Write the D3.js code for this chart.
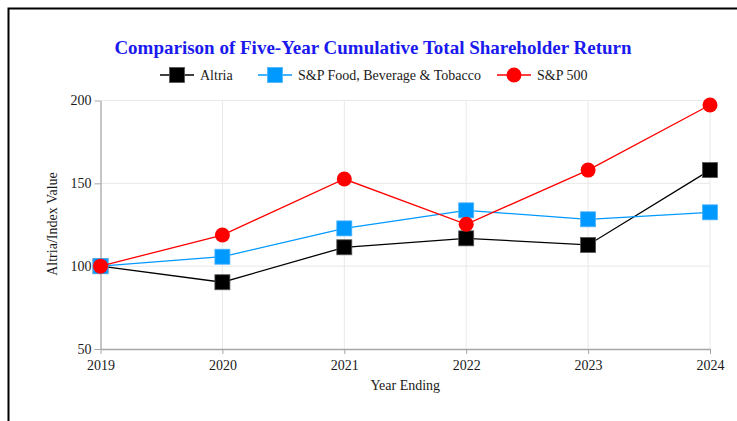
<!DOCTYPE html>
<html>
<head>
<meta charset="utf-8">
<script src="https://cdn.jsdelivr.net/npm/d3@7"></script>
<style>
  body { margin: 0; background: #fff; }
  text { font-family: "Liberation Serif", "Times New Roman", serif; }
</style>
</head>
<body>
<svg id="chart" width="737" height="421"></svg>
<script>
// chart data
var years = [2019, 2020, 2021, 2022, 2023, 2024];
var altria = [100, 90.3, 111.4, 116.8, 112.8, 158.0];
var foodBev = [100, 105.7, 122.8, 133.7, 128.3, 132.5];
var sp500 = [100, 118.8, 152.6, 125.3, 158.0, 197.3];
var yTicks = [50, 100, 150, 200];

var seriesNames = ["Altria", "S&P Food, Beverage & Tobacco", "S&P 500"];
var seriesColors = ["#000000", "#0099ff", "#ff0000"];
var seriesShapes = ["square", "square", "circle"];

var series = [altria, foodBev, sp500].map(function(vals, i) {
  return {
    name: seriesNames[i], color: seriesColors[i], shape: seriesShapes[i],
    values: vals.map(function(v, j) { return {year: years[j], value: v}; })
  };
});

var svg = d3.select("#chart");
var axisColor = "#a6a6a6";
var gridColor = "#e8e8e8";

// outer frame
svg.append("rect")
  .attr("x", 8.5).attr("y", 8.5)
  .attr("width", 760).attr("height", 440)
  .attr("fill", "none")
  .attr("stroke", "#000")
  .attr("stroke-width", 2);

var x = d3.scalePoint()
  .domain(years)
  .range([100.5, 710]);

var y = d3.scaleLinear()
  .domain([50, 200])
  .range([349, 100.5]);

// gridlines
svg.append("g").selectAll("line.hgrid")
  .data(yTicks.slice(1))
  .enter().append("line")
    .attr("x1", x(2019)).attr("x2", x(2024))
    .attr("y1", function(d) { return y(d); })
    .attr("y2", function(d) { return y(d); })
    .attr("stroke", gridColor);

svg.append("g").selectAll("line.vgrid")
  .data(years.slice(1))
  .enter().append("line")
    .attr("x1", function(d) { return x(d); })
    .attr("x2", function(d) { return x(d); })
    .attr("y1", y(200)).attr("y2", y(50))
    .attr("stroke", gridColor);

// axes
var xAxis = svg.append("g")
  .attr("transform", "translate(0," + y(50) + ")")
  .call(d3.axisBottom(x).tickSize(5).tickSizeOuter(0));

var yAxis = svg.append("g")
  .attr("transform", "translate(" + x(2019) + ",0)")
  .call(d3.axisLeft(y).tickValues(yTicks).tickSize(6).tickSizeOuter(0));

[xAxis, yAxis].forEach(function(a) {
  a.select(".domain").attr("stroke", axisColor).attr("stroke-width", 1.3);
  a.selectAll(".tick line").attr("stroke", axisColor);
  a.selectAll(".tick text")
    .style("font-family", "Liberation Serif")
    .style("font-size", "14px")
    .attr("fill", "#1a1a1a");
});
xAxis.selectAll(".tick text").attr("dy", "0.9em");
yAxis.selectAll(".tick text").attr("x", -9);

// axis titles
svg.append("text")
  .attr("x", x(2021) + (x(2022) - x(2021)) / 2)
  .attr("y", 390)
  .attr("text-anchor", "middle")
  .style("font-size", "14px")
  .attr("fill", "#1a1a1a")
  .text("Year Ending");

svg.append("text")
  .attr("transform", "translate(57," + 224 + ") rotate(-90)")
  .attr("text-anchor", "middle")
  .style("font-size", "14px")
  .attr("fill", "#1a1a1a")
  .text("Altria/Index Value");

// title
svg.append("text")
  .attr("x", 373)
  .attr("y", 54)
  .attr("text-anchor", "middle")
  .style("font-size", "19px")
  .style("font-weight", "bold")
  .attr("fill", "#1a1aee")
  .text("Comparison of Five-Year Cumulative Total Shareholder Return");

// marker helper
function drawMarker(g, shape, color, cx, cy) {
  if (shape === "circle") {
    g.append("circle")
      .attr("cx", cx).attr("cy", cy).attr("r", 7.5)
      .attr("fill", color);
  } else {
    g.append("rect")
      .attr("x", cx - 7.5).attr("y", cy - 7.5)
      .attr("width", 15).attr("height", 15)
      .attr("fill", color)
      .attr("stroke", color === "#000000" ? "#555" : "#4db3ff")
      .attr("stroke-width", 0.8);
  }
}

var line = d3.line()
  .x(function(d) { return x(d.year); })
  .y(function(d) { return y(d.value); });

series.forEach(function(s) {
  var g = svg.append("g");
  g.append("path")
    .datum(s.values)
    .attr("d", line)
    .attr("fill", "none")
    .attr("stroke", s.color)
    .attr("stroke-width", 1.3);
  s.values.forEach(function(d) {
    drawMarker(g, s.shape, s.color, x(d.year), y(d.value));
  });
});

// legend
var legendX = [160, 258, 497];
series.forEach(function(s, i) {
  var g = svg.append("g").attr("transform", "translate(" + legendX[i] + ",75)");
  g.append("line")
    .attr("x1", 0).attr("x2", 34)
    .attr("stroke", s.color).attr("stroke-width", 1.5);
  drawMarker(g, s.shape, s.color, 17, 0);
  g.append("text")
    .attr("x", 40).attr("y", 4.5)
    .style("font-size", "14px")
    .attr("fill", "#1a1a1a")
    .text(s.name);
});
</script>
</body>
</html>
